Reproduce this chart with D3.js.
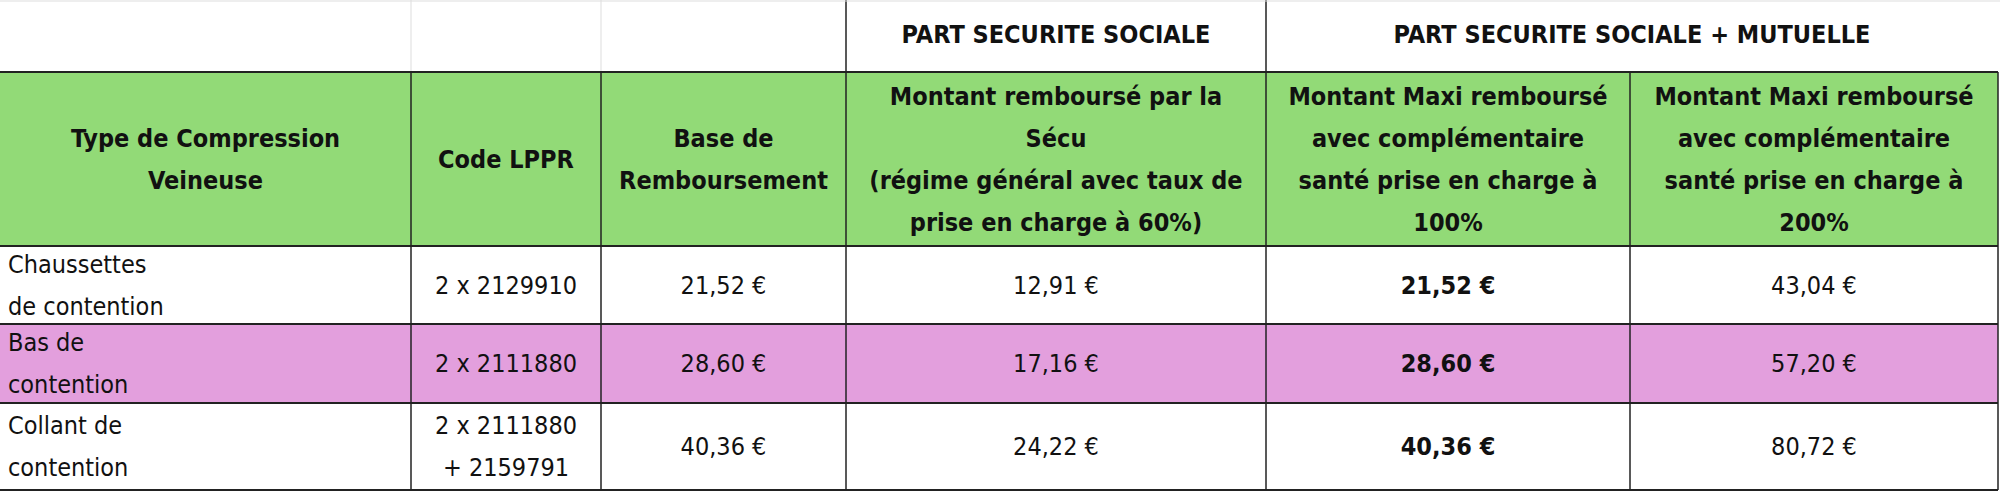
<!DOCTYPE html>
<html><head><meta charset="utf-8">
<script src="https://cdn.jsdelivr.net/npm/d3@7"></script>
<style>body{margin:0;background:#fff}svg{display:block}</style>
</head><body><svg id="t" width="2000" height="491"></svg>
<script>
const groups = [["PART SECURITE SOCIALE", 3, 4], ["PART SECURITE SOCIALE + MUTUELLE", 4, 6]];
const headers = [
  ["Type de Compression", "Veineuse"],
  ["Code LPPR"],
  ["Base de", "Remboursement"],
  ["Montant remboursé par la", "Sécu", "(régime général avec taux de", "prise en charge à 60%)"],
  ["Montant Maxi remboursé", "avec complémentaire", "santé prise en charge à", "100%"],
  ["Montant Maxi remboursé", "avec complémentaire", "santé prise en charge à", "200%"]
];
const types = [["Chaussettes", "de contention"], ["Bas de", "contention"], ["Collant de", "contention"]];
const codes = [["2 x 2129910"], ["2 x 2111880"], ["2 x 2111880", "+ 2159791"]];
const base = ["21,52 €", "28,60 €", "40,36 €"];
const secu = ["12,91 €", "17,16 €", "24,22 €"];
const mut100 = ["21,52 €", "28,60 €", "40,36 €"];
const mut200 = ["43,04 €", "57,20 €", "80,72 €"];
const rowFill = ["#ffffff", "#e39fdd", "#ffffff"];

const colEdges = [0, 411, 601, 846, 1266, 1630, 1998];
const rowEdges = [0, 72, 246, 324, 403, 490];
const svg = d3.select("#t");
const font = "'Liberation Sans Narrow','Arial Narrow','DejaVu Sans Condensed',sans-serif";
const fs = 25, lh = 42;

function cellText(g, lines, x0, x1, y0, y1, align, weight) {
  const cy = (y0 + y1) / 2;
  const n = lines.length;
  const gap = n === 2 && align === "start" ? 42 : lh;
  const t = g.append("text").attr("font-family", font).attr("font-size", fs)
    .attr("font-weight", weight).attr("fill", "#111")
    .attr("text-anchor", align === "start" ? "start" : "middle");
  lines.forEach((l, i) => {
    t.append("tspan").attr("x", align === "start" ? x0 + 8 : (x0 + x1) / 2)
      .attr("y", cy + (i - (n - 1) / 2) * gap).attr("dy", "0.35em").text(l);
  });
}

// top row (group titles)
svg.append("rect").attr("x", 0).attr("y", 0).attr("width", 2000).attr("height", rowEdges[1]).attr("fill", "#fff");
[1, 2].forEach(c => svg.append("line").attr("x1", colEdges[c]).attr("x2", colEdges[c]).attr("y1", 0).attr("y2", rowEdges[1]).attr("stroke", "#ddd").attr("stroke-width", 1));
groups.forEach(([name, a, b]) => {
  svg.append("line").attr("x1", colEdges[a]).attr("x2", colEdges[a]).attr("y1", 0).attr("y2", rowEdges[1]).attr("stroke", "#222").attr("stroke-width", 1.5);
  cellText(svg, [name], colEdges[a], colEdges[b], 0, rowEdges[1] - 4, "middle", "bold");
});
svg.append("line").attr("x1", 0).attr("x2", 2000).attr("y1", 1).attr("y2", 1).attr("stroke", "#ddd");

// header row
svg.append("rect").attr("x", 0).attr("y", rowEdges[1]).attr("width", colEdges[6]).attr("height", rowEdges[2] - rowEdges[1]).attr("fill", "#92da77");
headers.forEach((h, c) => cellText(svg, h, colEdges[c], colEdges[c + 1], rowEdges[1], rowEdges[2], "middle", "bold"));

// data rows
const cols = [types, codes, base.map(d => [d]), secu.map(d => [d]), mut100.map(d => [d]), mut200.map(d => [d])];
types.forEach((_, r) => {
  const y0 = rowEdges[r + 2], y1 = rowEdges[r + 3];
  svg.append("rect").attr("x", 0).attr("y", y0).attr("width", colEdges[6]).attr("height", y1 - y0).attr("fill", rowFill[r]);
  cols.forEach((col, c) => cellText(svg, col[r], colEdges[c], colEdges[c + 1], y0, y1, c === 0 ? "start" : "middle", c === 4 ? "bold" : "normal"));
});

// grid
rowEdges.slice(1).forEach(y => svg.append("line").attr("x1", 0).attr("x2", colEdges[6]).attr("y1", y).attr("y2", y).attr("stroke", "#222").attr("stroke-width", 2));
colEdges.forEach((x, c) => svg.append("line").attr("x1", x).attr("x2", x).attr("y1", rowEdges[1]).attr("y2", rowEdges[5]).attr("stroke", "#222").attr("stroke-width", c === 0 ? 0 : 1.5));
</script></body></html>
